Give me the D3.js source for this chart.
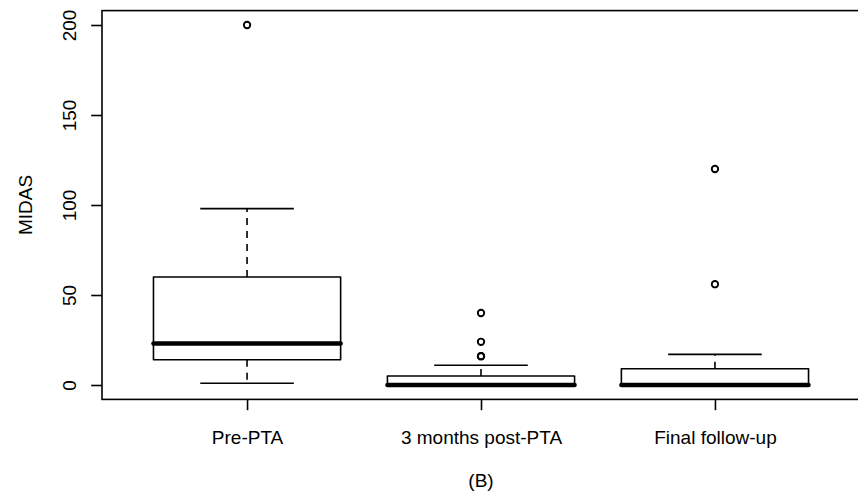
<!DOCTYPE html>
<html>
<head>
<meta charset="utf-8">
<script src="https://cdn.jsdelivr.net/npm/d3@7"></script>
<style>
  html, body { margin: 0; padding: 0; background: #fff; }
  svg { display: block; }
  text { font-family: "Liberation Sans", Arial, Helvetica, sans-serif; fill: #000; }
</style>
</head>
<body>
<div id="chart"></div>
<script>
// ---- data ----
const categories = ["Pre-PTA", "3 months post-PTA", "Final follow-up"];
const lowerWhisker = [1, 0, 0];
const q1 = [14, 0, 0];
const median = [23, 0, 0];
const q3 = [60, 5, 9];
const upperWhisker = [98, 11, 17];
const outliers = [[200], [16, 16, 24, 40], [56, 120]];
const yTicks = [0, 50, 100, 150, 200];
const yLabel = "MIDAS";
const caption = "(B)";

// ---- layout ----
const W = 858, H = 496;
const plotLeft = 102, plotRight = 860, plotTop = 10.6, plotBottom = 399.4;
const fontSize = "19px";

const svg = d3.select("#chart").append("svg")
  .attr("width", W).attr("height", H);

const x = d3.scaleLinear().domain([0.38, 3.62]).range([plotLeft, plotRight]);
const y = d3.scaleLinear().domain([-8, 208]).range([plotBottom, plotTop]);

const unit = x(1) - x(0);
const boxW = 0.8 * unit;
const stapleW = 0.4 * unit;
const lw = 1.6;

const g = svg.append("g");

categories.forEach((c, i) => {
  const cx = x(i + 1);
  const grp = g.append("g");
  // whiskers (dashed)
  grp.append("line")
    .attr("x1", cx).attr("x2", cx)
    .attr("y1", y(q3[i])).attr("y2", y(upperWhisker[i]))
    .attr("stroke", "#000").attr("stroke-width", lw).attr("stroke-dasharray", "7,6");
  grp.append("line")
    .attr("x1", cx).attr("x2", cx)
    .attr("y1", y(q1[i])).attr("y2", y(lowerWhisker[i]))
    .attr("stroke", "#000").attr("stroke-width", lw).attr("stroke-dasharray", "7,6");
  // staples
  [upperWhisker[i], lowerWhisker[i]].forEach(v => {
    grp.append("line")
      .attr("x1", cx - stapleW / 2).attr("x2", cx + stapleW / 2)
      .attr("y1", y(v)).attr("y2", y(v))
      .attr("stroke", "#000").attr("stroke-width", lw);
  });
  // box
  grp.append("rect")
    .attr("x", cx - boxW / 2).attr("width", boxW)
    .attr("y", y(q3[i])).attr("height", y(q1[i]) - y(q3[i]))
    .attr("fill", "#fff").attr("stroke", "#000").attr("stroke-width", lw)
    .attr("stroke-linejoin", "round");
  // median
  grp.append("line")
    .attr("x1", cx - boxW / 2).attr("x2", cx + boxW / 2)
    .attr("y1", y(median[i])).attr("y2", y(median[i]))
    .attr("stroke", "#000").attr("stroke-width", 4.5).attr("stroke-linecap", "round");
  // outliers
  grp.selectAll("circle").data(outliers[i]).enter().append("circle")
    .attr("cx", cx).attr("cy", d => y(d)).attr("r", 3.2)
    .attr("fill", "none").attr("stroke", "#000").attr("stroke-width", 1.9);
});

// frame
svg.append("rect")
  .attr("x", plotLeft).attr("y", plotTop)
  .attr("width", plotRight - plotLeft).attr("height", plotBottom - plotTop)
  .attr("fill", "none").attr("stroke", "#000").attr("stroke-width", lw);

// y axis
const yAxis = d3.axisLeft(y).tickValues(yTicks).tickSize(10.8).tickPadding(0).tickFormat(d3.format("d"));
const ya = svg.append("g").attr("transform", `translate(${plotLeft},0)`).call(yAxis);
ya.select(".domain").remove();
ya.selectAll(".tick line").attr("stroke", "#000").attr("stroke-width", lw);
ya.selectAll(".tick text")
  .attr("x", 0).attr("dy", null)
  .attr("transform", "translate(-26,0) rotate(-90)")
  .attr("text-anchor", "middle")
  .style("font-size", fontSize).style("font-family", '"Liberation Sans", Arial, sans-serif');

// x axis
const xAxis = d3.axisBottom(x).tickValues([1, 2, 3]).tickSize(10.8).tickPadding(0)
  .tickFormat(d => categories[d - 1]);
const xa = svg.append("g").attr("transform", `translate(0,${plotBottom})`).call(xAxis);
xa.select(".domain").remove();
xa.selectAll(".tick line").attr("stroke", "#000").attr("stroke-width", lw);
xa.selectAll(".tick text")
  .attr("y", 44.5).attr("dy", null)
  .style("font-size", fontSize).style("font-family", '"Liberation Sans", Arial, sans-serif');

// axis labels
svg.append("text")
  .attr("transform", `translate(31.5,${(plotTop + plotBottom) / 2}) rotate(-90)`)
  .attr("text-anchor", "middle").style("font-size", fontSize)
  .text(yLabel);
svg.append("text")
  .attr("x", (plotLeft + plotRight) / 2).attr("y", 486.5)
  .attr("text-anchor", "middle").style("font-size", fontSize)
  .text(caption);
</script>
</body>
</html>
